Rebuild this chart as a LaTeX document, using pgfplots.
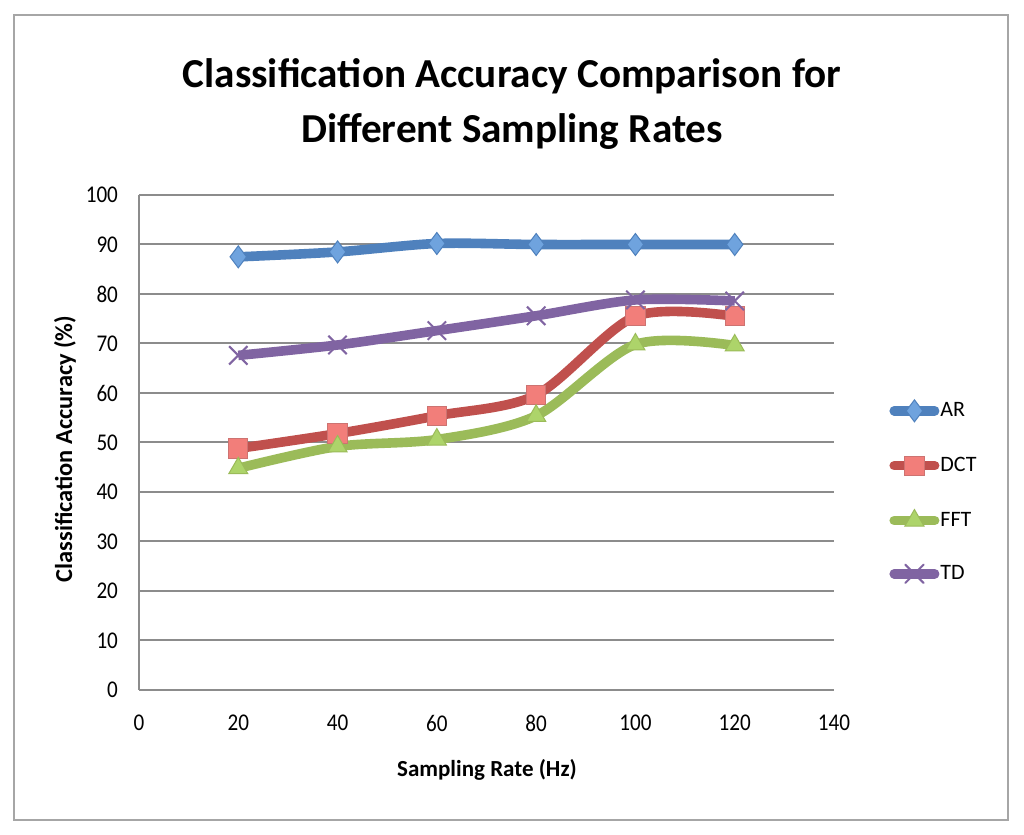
\documentclass[border=0pt]{standalone}
\usepackage{pgfplots}
\pgfplotsset{compat=1.18}
\usepackage{fontspec}
\setmainfont{Carlito}
\newfontfamily\tickfont[FakeStretch=0.88]{Carlito}
\definecolor{arc}{HTML}{4F81BD}
\definecolor{arf}{HTML}{6FA3DE}
\definecolor{dctc}{HTML}{C0504D}
\definecolor{dctf}{HTML}{F27E7A}
\definecolor{fftc}{HTML}{9BBB59}
\definecolor{fftf}{HTML}{ADD46A}
\definecolor{tdc}{HTML}{8064A2}
\definecolor{gridc}{HTML}{8C8C8C}
\begin{document}
\begin{tikzpicture}[x=1pt,y=1pt]
\path[use as bounding box] (-69.5,-72.5) rectangle (442.5,345);
\draw[gray!70, line width=1.2pt, fill=white] (-62.5,-65) rectangle (434.5,337.5);
\begin{axis}[
  at={(0pt,0pt)}, anchor=south west,
  scale only axis, width=347.5pt, height=247.5pt,
  xmin=0, xmax=140, ymin=0, ymax=100,
  xtick={0,20,...,140}, ytick={0,10,...,100},
  axis lines*=left,
  axis line style={gridc, line width=1pt},
  ymajorgrids, grid style={gridc, line width=1pt},
  major tick length=0pt,
  tick label style={font=\tickfont\fontsize{12}{14}\selectfont},
  /pgf/number format/assume math mode=true,
  yticklabel style={xshift=-7pt},
  xticklabel style={yshift=-9pt},
  xlabel={Sampling Rate (Hz)},
  label style={font=\bfseries\fontsize{11.5}{13}\selectfont},
  xlabel style={at={(axis description cs:0.5007,-0.1616)}, anchor=center},
  title={Classification Accuracy Comparison for\\Different Sampling Rates},
  title style={at={(axis description cs:0.5367,1.16)}, anchor=center, align=center,
    font=\bfseries\fontsize{20.6}{27.5}\selectfont},
  legend style={draw=none, fill=none, at={(axis description cs:1.0792,0.587)}, anchor=north west,
    font=\fontsize{11}{13}\selectfont, row sep=17.1pt, cells={anchor=west}, inner sep=0pt,
    nodes={inner sep=0.5pt}},
  legend image code/.code={\draw[mark repeat=2,mark phase=2,line cap=round,#1] plot coordinates {(2.4pt,0pt)(12.5pt,0pt)(22.6pt,0pt)};},
  every axis plot/.append style={smooth, tension=0.5, line width=4.8pt},
  clip=false,
]
\addplot[arc, mark=diamond*, mark size=5.5pt, mark options={fill=arf, draw=arc, line width=0.5pt}]
  coordinates {(20,87.5) (40,88.5) (60,90.2) (80,90) (100,90) (120,90)};
\addlegendentry{AR}
\addplot[dctc, mark=square*, mark size=4.8pt, mark options={fill=dctf, draw=dctc!80, line width=0.5pt}]
  coordinates {(20,48.8) (40,51.8) (60,55.4) (80,59.6) (100,75.5) (120,75.5)};
\addlegendentry{DCT}
\addplot[fftc, mark=triangle*, mark size=5.5pt, mark options={fill=fftf, draw=fftc, line width=0.5pt}]
  coordinates {(20,44.8) (40,49.2) (60,50.6) (80,55.4) (100,69.8) (120,69.6)};
\addlegendentry{FFT}
\addplot[tdc, mark=x, mark size=6.5pt, mark options={draw=tdc, line width=1pt}]
  coordinates {(20,67.6) (40,69.7) (60,72.6) (80,75.6) (100,78.8) (120,78.6)};
\addlegendentry{TD}
\end{axis}
\node[rotate=90, anchor=center, font=\bfseries\fontsize{12.2}{14}\selectfont] at (-37pt,120.5pt) {Classification Accuracy (\%)};
\end{tikzpicture}
\end{document}
